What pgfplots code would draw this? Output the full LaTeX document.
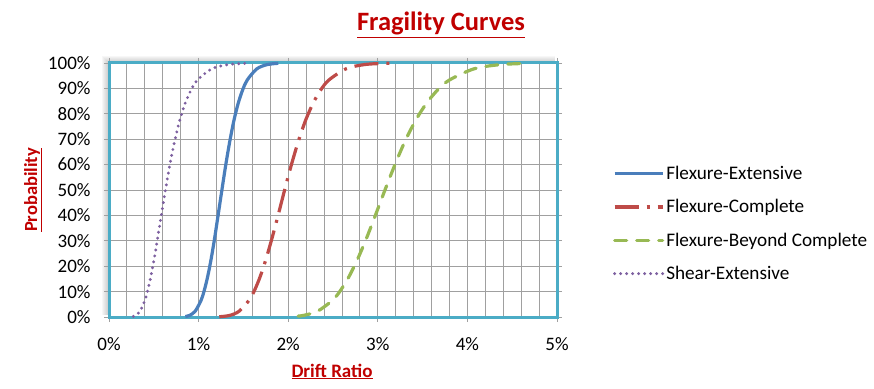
\documentclass[border=0pt]{standalone}
\usepackage{fontspec}
\setmainfont{Carlito}
\usepackage{pgfplots}
\pgfplotsset{compat=1.18}
\definecolor{framec}{HTML}{4BACC6}
\definecolor{gridc}{HTML}{A0A0A0}
\definecolor{cblue}{HTML}{4A7EBB}
\definecolor{cred}{HTML}{BE4B48}
\definecolor{cgreen}{HTML}{98B954}
\definecolor{cpurple}{HTML}{7D60A0}
\definecolor{titlered}{HTML}{C00000}
\begin{document}
\begin{tikzpicture}[x=1pt,y=1pt]
\useasboundingbox (0,0) rectangle (874,388);
% soft shadow up-left of the plot frame
\foreach \s in {1,...,7} {
  \fill[black,opacity=0.03] (109-\s,73) rectangle (555,325+\s);
}
\begin{axis}[
  at={(109pt,71pt)}, anchor=south west,
  width=448pt, height=254pt, scale only axis,
  xmin=0, xmax=5, ymin=0, ymax=100,
  clip=false,
  axis background/.style={fill=white},
  xtick={0,1,2,3,4,5},
  xticklabels={0\%,1\%,2\%,3\%,4\%,5\%},
  ytick={0,10,20,30,40,50,60,70,80,90,100},
  yticklabels={0\%,10\%,20\%,30\%,40\%,50\%,60\%,70\%,80\%,90\%,100\%},
  minor x tick num=4,
  xmajorgrids, xminorgrids, ymajorgrids,
  major grid style={draw=gridc, line width=0.9pt},
  minor grid style={draw=gridc, line width=0.9pt},
  tick align=outside,
  major tick length=5pt, minor tick length=0pt,
  tick style={draw=gridc, line width=0.9pt},
  axis line style={draw=framec, line width=3pt},
  /pgf/number format/assume math mode=true,
  ticklabel style={font=\fontsize{19}{21}\selectfont, text=black},
  yticklabel style={xshift=-10pt},
  xticklabel style={yshift=-12pt},
  legend style={at={(1.118,0.61)}, anchor=north west, draw=none, fill=none,
    font=\fontsize{19.2}{21}\selectfont, row sep=14.5pt},
  legend cell align=left,
  legend image code/.code={\draw[#1] (0pt,0pt) -- (48pt,0pt);},
]
\addplot[cblue, line width=3.2pt, smooth] coordinates {
(0.852,0.19) (0.899,0.62) (0.962,2.28) (1.029,6.68) (1.064,10.56) (1.101,15.87)
(1.139,22.66) (1.178,30.85) (1.218,40.13) (1.260,50.00) (1.303,59.87) (1.348,69.15)
(1.394,77.34) (1.442,84.13) (1.492,89.44) (1.543,93.32) (1.651,97.72) (1.766,99.38)
(1.889,99.87)};
\addlegendentry{Flexure-Extensive}
\addplot[cred, line width=3.2pt, smooth, line cap=butt, dash pattern=on 24pt off 8pt on 3pt off 8pt] coordinates {
(1.231,0.10) (1.347,0.62) (1.452,2.28) (1.565,6.68) (1.625,10.56) (1.687,15.87)
(1.751,22.66) (1.818,30.85) (1.888,40.13) (1.960,50.00) (2.035,59.87) (2.113,69.15)
(2.193,77.34) (2.277,84.13) (2.364,89.44) (2.455,93.32) (2.646,97.72) (2.852,99.38)
(3.074,99.87) (3.167,99.93)};
\addlegendentry{Flexure-Complete}
\addplot[cgreen, line width=3.2pt, smooth, line cap=round, dash pattern=on 12pt off 10pt] coordinates {
(2.110,0.35) (2.170,0.62) (2.328,2.28) (2.497,6.68) (2.586,10.56) (2.678,15.87)
(2.773,22.66) (2.872,30.85) (2.974,40.13) (3.080,50.00) (3.190,59.87) (3.303,69.15)
(3.421,77.34) (3.543,84.13) (3.669,89.44) (3.800,93.32) (4.075,97.72) (4.371,99.38)
(4.688,99.87)};
\addlegendentry{Flexure-Beyond Complete}
\addplot[cpurple, line width=3.2pt, smooth, line cap=round, dash pattern=on 0pt off 6pt] coordinates {
(0.272,0.26) (0.298,0.62) (0.346,2.28) (0.402,6.68) (0.433,10.56) (0.467,15.87)
(0.503,22.66) (0.542,30.85) (0.584,40.13) (0.630,50.00) (0.679,59.87) (0.732,69.15)
(0.789,77.34) (0.850,84.13) (0.917,89.44) (0.988,93.32) (1.148,97.72) (1.334,99.38)
(1.550,99.87)};
\addlegendentry{Shear-Extensive}
\end{axis}
\node[anchor=base, text=titlered, font=\fontsize{26.5}{29}\selectfont\bfseries] at (441,357) {\underline{Fragility Curves}};
\node[anchor=base, text=titlered, font=\fontsize{19}{21}\selectfont\bfseries] at (332,11) {\underline{Drift Ratio}};
\node[anchor=base, rotate=90, text=titlered, font=\fontsize{18.5}{20}\selectfont\bfseries] at (37,198) {\underline{Probability}};
\end{tikzpicture}
\end{document}
